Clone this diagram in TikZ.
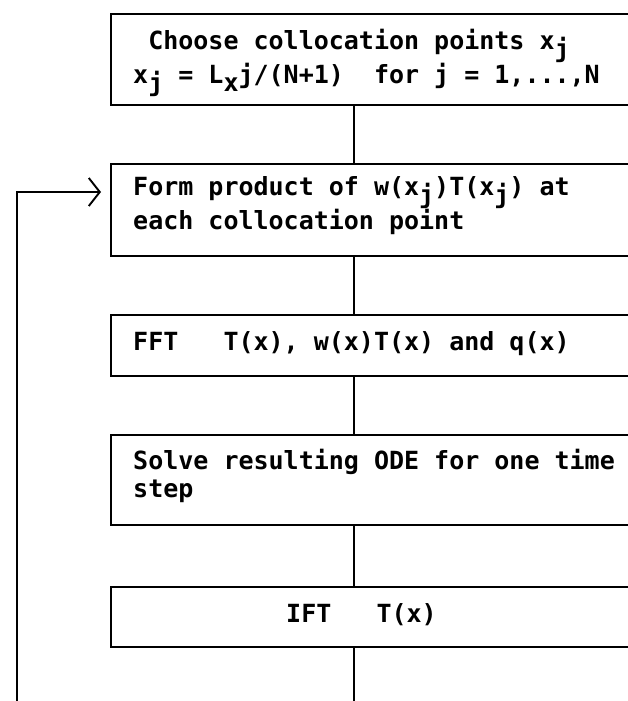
\documentclass[tikz,border=0pt]{standalone}
\usepackage{fontspec}
\setmonofont{DejaVu Sans Mono}
\usetikzlibrary{arrows.meta,calc}
\newcommand{\sbx}[1]{\raisebox{-0.3em}{#1}}
\begin{document}
\begin{tikzpicture}[x=1pt,y=-1pt,
  stepbox/.style={draw=black,line width=1.9pt,rectangle,anchor=north west,minimum width=540pt,inner sep=0pt},
  txt/.style={anchor=west,inner sep=0pt,align=left,font=\fontsize{25}{28.5}\ttfamily\bfseries},
  link/.style={line width=1.9pt}]
\useasboundingbox (0,0) rectangle (628,701);
\node[stepbox,minimum height=91pt] (b1) at (110,13) {};
\node[stepbox,minimum height=92pt] (b2) at (110,163) {};
\node[stepbox,minimum height=61pt] (b3) at (110,314) {};
\node[stepbox,minimum height=90pt] (b4) at (110,434) {};
\node[stepbox,minimum height=60pt] (b5) at (110,586) {};
\node[txt] (t1) at (133,63) {\ Choose collocation points x\sbx{j}\\x\sbx{j} = L\sbx{x}j/(N+1)\ \ for j = 1,...,N};
\node[txt] (t2) at (133,206) {Form product of w(x\sbx{j})T(x\sbx{j}) at\\each collocation point};
\node[txt] (t3) at (133,344) {FFT\ \ \ T(x), w(x)T(x) and q(x)};
\node[txt] (t4) at (133,476) {Solve resulting ODE for one time\\step};
\node[txt] (t5) at (286,615) {IFT\ \ \ T(x)};
\coordinate (axis) at (354,0);
\coordinate (bot) at (354,701);
\coordinate (fb) at (17,701);
\coordinate (entry) at ($(b2.north west)+(0,29)$);
\draw[link] (b1.south -| axis) -- (b2.north -| axis);
\draw[link] (b2.south -| axis) -- (b3.north -| axis);
\draw[link] (b3.south -| axis) -- (b4.north -| axis);
\draw[link] (b4.south -| axis) -- (b5.north -| axis);
\draw[link] (b5.south -| axis) -- (bot);
\draw[link,-{Straight Barb[length=11pt,width=28pt,line width=1.9pt]},shorten >=9pt] (fb) |- (entry);
\end{tikzpicture}
\end{document}
